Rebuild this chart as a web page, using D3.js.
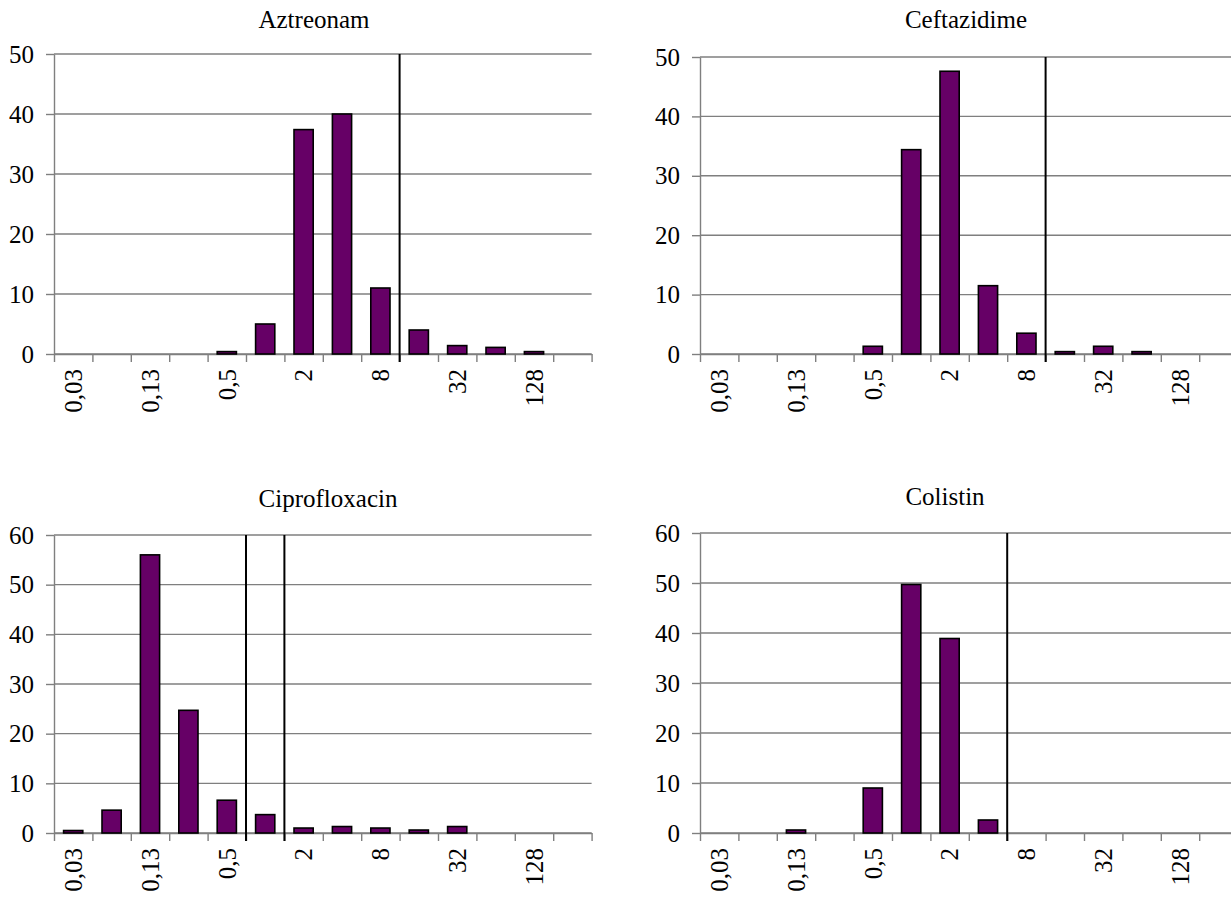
<!DOCTYPE html>
<html>
<head>
<meta charset="utf-8">
<script src="https://cdn.jsdelivr.net/npm/d3@7"></script>
<style>
  body { margin: 0; background: #fff; }
  svg { display: block; }
  svg text { font-family: "Liberation Serif", "Times New Roman", Tinos, "Nimbus Roman", "DejaVu Serif", serif !important; fill: #000; }
</style>
</head>
<body>
<div id="chart"></div>
<script>
// MIC categories (mg/L) and which ones get a label on the x axis
var mic = ["0,03", "0,06", "0,13", "0,25", "0,5", "1", "2", "4", "8", "16", "32", "64", "128", "256"];
var tickLabels = ["0,03", "0,13", "0,5", "2", "8", "32", "128"];

// percentage of isolates per MIC
var aztreonam     = [0, 0, 0, 0, 0.4, 5, 37.4, 40, 11, 4, 1.4, 1.1, 0.4, 0];
var ceftazidime   = [0, 0, 0, 0, 1.3, 34.4, 47.6, 11.5, 3.5, 0.4, 1.3, 0.4, 0, 0];
var ciprofloxacin = [0.5, 4.6, 56, 24.7, 6.6, 3.7, 1, 1.3, 1, 0.6, 1.3, 0, 0, 0];
var colistin      = [0, 0, 0.6, 0, 9, 49.7, 38.9, 2.6, 0, 0, 0, 0, 0, 0];

// breakpoint lines are drawn right after these categories
var aztreonamBreaks = ["8"];
var ceftazidimeBreaks = ["8"];
var ciprofloxacinBreaks = ["0,5", "1"];
var colistinBreaks = ["4"];

var yMax = [50, 50, 60, 60];

var panels = [
  {title: "Aztreonam",     values: aztreonam,     breaks: aztreonamBreaks,     ymax: yMax[0],
   left: 54,  top: 54,  bottom: 354, titleX: 314, titleY: 28},
  {title: "Ceftazidime",   values: ceftazidime,   breaks: ceftazidimeBreaks,   ymax: yMax[1],
   left: 700, top: 57,  bottom: 354, titleX: 966, titleY: 28},
  {title: "Ciprofloxacin", values: ciprofloxacin, breaks: ciprofloxacinBreaks, ymax: yMax[2],
   left: 54,  top: 535, bottom: 833, titleX: 328, titleY: 507},
  {title: "Colistin",      values: colistin,      breaks: colistinBreaks,      ymax: yMax[3],
   left: 700, top: 533, bottom: 833, titleX: 945, titleY: 505}
];

var full_width = 1231;
var full_height = 897;
var step = 38.4;
var gridColor = "#7f7f7f";
var fontSize = 25;

var svg = d3.select("#chart")
  .append("svg")
    .attr("width", full_width)
    .attr("height", full_height);

panels.forEach(function(p) {
  var right = p.left + step * mic.length;
  var data = mic.map(function(m, i) { return {mic: m, value: p.values[i]}; });

  var x = d3.scaleBand()
    .domain(mic)
    .range([p.left, right])
    .paddingInner(0.5)
    .paddingOuter(0.25);

  // category boundaries for the tick marks
  var xEdge = d3.scaleLinear()
    .domain([0, mic.length])
    .range([p.left, right]);

  var y = d3.scaleLinear()
    .domain([0, p.ymax])
    .range([p.bottom, p.top]);

  var g = svg.append("g");

  // title
  g.append("text")
    .attr("x", p.titleX)
    .attr("y", p.titleY)
    .style("text-anchor", "middle")
    .style("font-size", fontSize + "px")
    .text(p.title);

  // horizontal gridlines
  var yTicks = d3.range(0, p.ymax + 1, 10);
  g.selectAll(".grid")
    .data(yTicks)
    .enter()
    .append("line")
      .attr("x1", p.left)
      .attr("x2", right)
      .attr("y1", function(d) { return y(d); })
      .attr("y2", function(d) { return y(d); })
      .attr("stroke", gridColor)
      .attr("stroke-width", 1.4);

  // Y axis
  var yAxis = g.append("g")
    .attr("transform", "translate(" + p.left + ",0)")
    .call(d3.axisLeft(y).tickValues(yTicks).tickSize(8).tickSizeOuter(0).tickPadding(12));
  yAxis.attr("font-family", null).attr("font-size", null);
  yAxis.select(".domain").attr("stroke", gridColor).attr("stroke-width", 1.4);
  yAxis.selectAll(".tick line").attr("stroke", gridColor).attr("stroke-width", 1.4);
  yAxis.selectAll(".tick text")
    .attr("fill", "#000")
    .style("font-size", fontSize + "px");

  // X axis tick marks at the category edges
  var xTickAxis = g.append("g")
    .attr("transform", "translate(0," + p.bottom + ")")
    .call(d3.axisBottom(xEdge).tickValues(d3.range(0, mic.length + 1)).tickFormat("").tickSize(8).tickSizeOuter(0));
  xTickAxis.select(".domain").attr("stroke", gridColor).attr("stroke-width", 1.4);
  xTickAxis.selectAll(".tick line").attr("stroke", gridColor).attr("stroke-width", 1.4);

  // X labels, rotated, every other category
  g.selectAll(".xlabel")
    .data(tickLabels)
    .enter()
    .append("text")
      .attr("transform", function(d) {
        return "translate(" + (x(d) + x.bandwidth() / 2) + "," + (p.bottom + 15) + ") rotate(-90)";
      })
      .attr("dy", "0.35em")
      .style("text-anchor", "end")
      .style("font-size", fontSize + "px")
      .text(function(d) { return d; });

  // bars
  g.selectAll(".bar")
    .data(data.filter(function(d) { return d.value > 0; }))
    .enter()
    .append("rect")
      .attr("x", function(d) { return x(d.mic); })
      .attr("y", function(d) { return y(d.value); })
      .attr("width", x.bandwidth())
      .attr("height", function(d) { return y(0) - y(d.value); })
      .attr("fill", "#660066")
      .attr("stroke", "#000")
      .attr("stroke-width", 1.6);

  // breakpoint lines
  g.selectAll(".brk")
    .data(p.breaks)
    .enter()
    .append("line")
      .attr("x1", function(d) { return x(d) + x.bandwidth() + x.step() * 0.25; })
      .attr("x2", function(d) { return x(d) + x.bandwidth() + x.step() * 0.25; })
      .attr("y1", p.top)
      .attr("y2", p.bottom + 8)
      .attr("stroke", "#000")
      .attr("stroke-width", 2);
});
</script>
</body>
</html>
